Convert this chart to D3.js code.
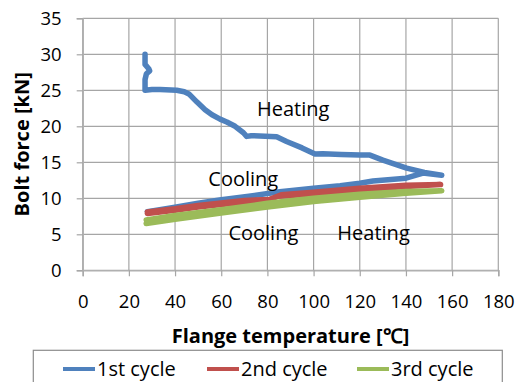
<!DOCTYPE html>
<html>
<head>
<meta charset="utf-8">
<script src="https://cdn.jsdelivr.net/npm/d3@7"></script>
<style>
  html, body { margin: 0; padding: 0; background: #fff; overflow: hidden; }
  svg { display: block; }
  text { font-family: "Open Sans", sans-serif; fill: #000; }
</style>
</head>
<body>
<div id="chart"></div>
<script>
// Data: [temperature °C, bolt force kN]
const cycle1 = [
  [27, 30.0], [27, 28.6], [28.6, 28.0], [29, 27.7], [27.6, 27.3], [27, 26.5], [27, 25.0],
  [30, 25.1], [33.5, 25.1], [40.7, 25.0], [44, 24.8], [46, 24.5], [49.4, 23.4], [53, 22.3],
  [56, 21.6], [59.5, 21.0], [62.4, 20.6], [66, 20.0], [69.6, 19.1], [71, 18.6], [73, 18.7],
  [84, 18.55], [88.3, 17.9], [95, 17.0], [100.6, 16.15], [104, 16.2], [112, 16.1], [120, 16.0],
  [124.4, 16.0], [130, 15.3], [140.3, 14.2], [148, 13.6], [155.5, 13.2],
  // cooling back
  [147.4, 13.5], [140, 12.8], [125.7, 12.4], [120, 12.1], [111.5, 11.75], [100, 11.4],
  [85.4, 10.9], [72, 10.3], [60, 9.8], [50, 9.3], [40, 8.75], [28, 8.15]
];
const cycle2 = [
  [28, 7.9], [40, 8.35], [50, 8.8], [60, 9.15], [70, 9.45], [80, 9.65], [84.5, 10.3],
  [100, 10.6], [120, 11.2], [140, 11.65], [155, 11.9],
  // cooling back
  [140, 11.8], [120, 11.4], [100, 10.85], [86, 10.5], [81, 9.85], [70, 9.7], [60, 9.35],
  [50, 9.0], [40, 8.55], [28, 8.1]
];
const cycle3 = [
  [27.5, 6.5], [40, 7.1], [60, 7.95], [80, 8.8], [100, 9.55], [120, 10.15], [140, 10.7], [155.5, 11.05],
  // cooling back
  [140, 10.95], [120, 10.55], [100, 10.0], [80, 9.3], [60, 8.4], [40, 7.6], [27.5, 7.0]
];

const seriesNames = ["1st cycle", "2nd cycle", "3rd cycle"];
const seriesColors = ["#4F81BD", "#C0504D", "#9BBB59"];
const xTicks = [0, 20, 40, 60, 80, 100, 120, 140, 160, 180];
const yTicks = [0, 5, 10, 15, 20, 25, 30, 35];

// Text annotations inside the plot, placed in data coordinates
const notes = [
  { text: "Heating", x: 75.5, y: 21.4 },
  { text: "Cooling", x: 54.4, y: 11.7 },
  { text: "Cooling", x: 63.1, y: 4.2 },
  { text: "Heating", x: 110.3, y: 4.2 }
];

// Dimensions
const width = 517;
const height = 382;
const margin = { top: 18.3, right: 18.7, bottom: 111.7, left: 82.7 };
const innerWidth = width - margin.left - margin.right;
const innerHeight = height - margin.top - margin.bottom;

const svg = d3.select("#chart")
  .append("svg")
  .attr("width", width)
  .attr("height", height);

const gRoot = svg.append("g")
  .attr("transform", `translate(${margin.left}, ${margin.top})`);

const xScale = d3.scaleLinear().domain([0, 180]).range([0, innerWidth]);
const yScale = d3.scaleLinear().domain([0, 35]).range([innerHeight, 0]);

// Gridlines
const gGrid = gRoot.append("g").attr("class", "grid");
gGrid.selectAll("line.h")
  .data(yTicks)
  .join("line")
  .attr("x1", 0).attr("x2", innerWidth)
  .attr("y1", d => yScale(d)).attr("y2", d => yScale(d))
  .attr("stroke", "#a6a6a6").attr("stroke-width", 1.2);
gGrid.selectAll("line.v")
  .data(xTicks)
  .join("line")
  .attr("y1", 0).attr("y2", innerHeight)
  .attr("x1", d => xScale(d)).attr("x2", d => xScale(d))
  .attr("stroke", "#a6a6a6").attr("stroke-width", 1.2);

// Axes
const gXAxis = gRoot.append("g")
  .attr("transform", `translate(0, ${innerHeight})`)
  .call(d3.axisBottom(xScale).tickValues(xTicks).tickSize(6).tickPadding(19));
const gYAxis = gRoot.append("g")
  .call(d3.axisLeft(yScale).tickValues(yTicks).tickSize(6).tickPadding(15));

[gXAxis, gYAxis].forEach(g => {
  g.select(".domain").attr("stroke", "#b0b0b0").attr("stroke-width", 1.5);
  g.selectAll(".tick line").attr("stroke", "#a6a6a6").attr("stroke-width", 1.2);
  g.selectAll(".tick text")
    .attr("font-size", "18.5px")
    .attr("font-family", "Open Sans, sans-serif")
    .attr("fill", "#000");
});

// Lines
const line = d3.line()
  .x(d => xScale(d[0]))
  .y(d => yScale(d[1]));

gRoot.append("g").attr("class", "chart")
  .selectAll("path")
  .data([cycle1, cycle2, cycle3])
  .join("path")
  .attr("fill", "none")
  .attr("stroke", (d, i) => seriesColors[i])
  .attr("stroke-width", 5.5)
  .attr("stroke-linejoin", "round")
  .attr("stroke-linecap", "round")
  .attr("d", line);

// Annotations
gRoot.selectAll("text.note")
  .data(notes)
  .join("text")
  .attr("class", "note")
  .attr("x", d => xScale(d.x))
  .attr("y", d => yScale(d.y))
  .attr("font-size", "20px")
  .text(d => d.text);

// Axis titles
svg.append("text")
  .attr("x", margin.left + innerWidth / 2)
  .attr("y", 343)
  .attr("text-anchor", "middle")
  .attr("font-size", "20px")
  .attr("font-weight", "bold")
  .text("Flange temperature [℃]");

svg.append("text")
  .attr("transform", `translate(29, ${margin.top + innerHeight / 2}) rotate(-90)`)
  .attr("text-anchor", "middle")
  .attr("font-size", "20px")
  .attr("font-weight", "bold")
  .text("Bolt force [kN]");

// Legend
const gLegend = svg.append("g").attr("class", "legend");
gLegend.append("rect")
  .attr("x", 33.3).attr("y", 350.3)
  .attr("width", 469).attr("height", 60)
  .attr("fill", "#fff")
  .attr("stroke", "#8c8c8c").attr("stroke-width", 1.2);

const legendX = [63, 207, 357];
const items = gLegend.selectAll("g.item")
  .data(seriesNames)
  .join("g")
  .attr("class", "item")
  .attr("transform", (d, i) => `translate(${legendX[i]}, 369)`);
items.append("line")
  .attr("x1", 0).attr("x2", 32)
  .attr("stroke", (d, i) => seriesColors[i])
  .attr("stroke-width", 4);
items.append("text")
  .attr("x", 34)
  .attr("y", 7)
  .attr("font-size", "20px")
  .text(d => d);
</script>
</body>
</html>
